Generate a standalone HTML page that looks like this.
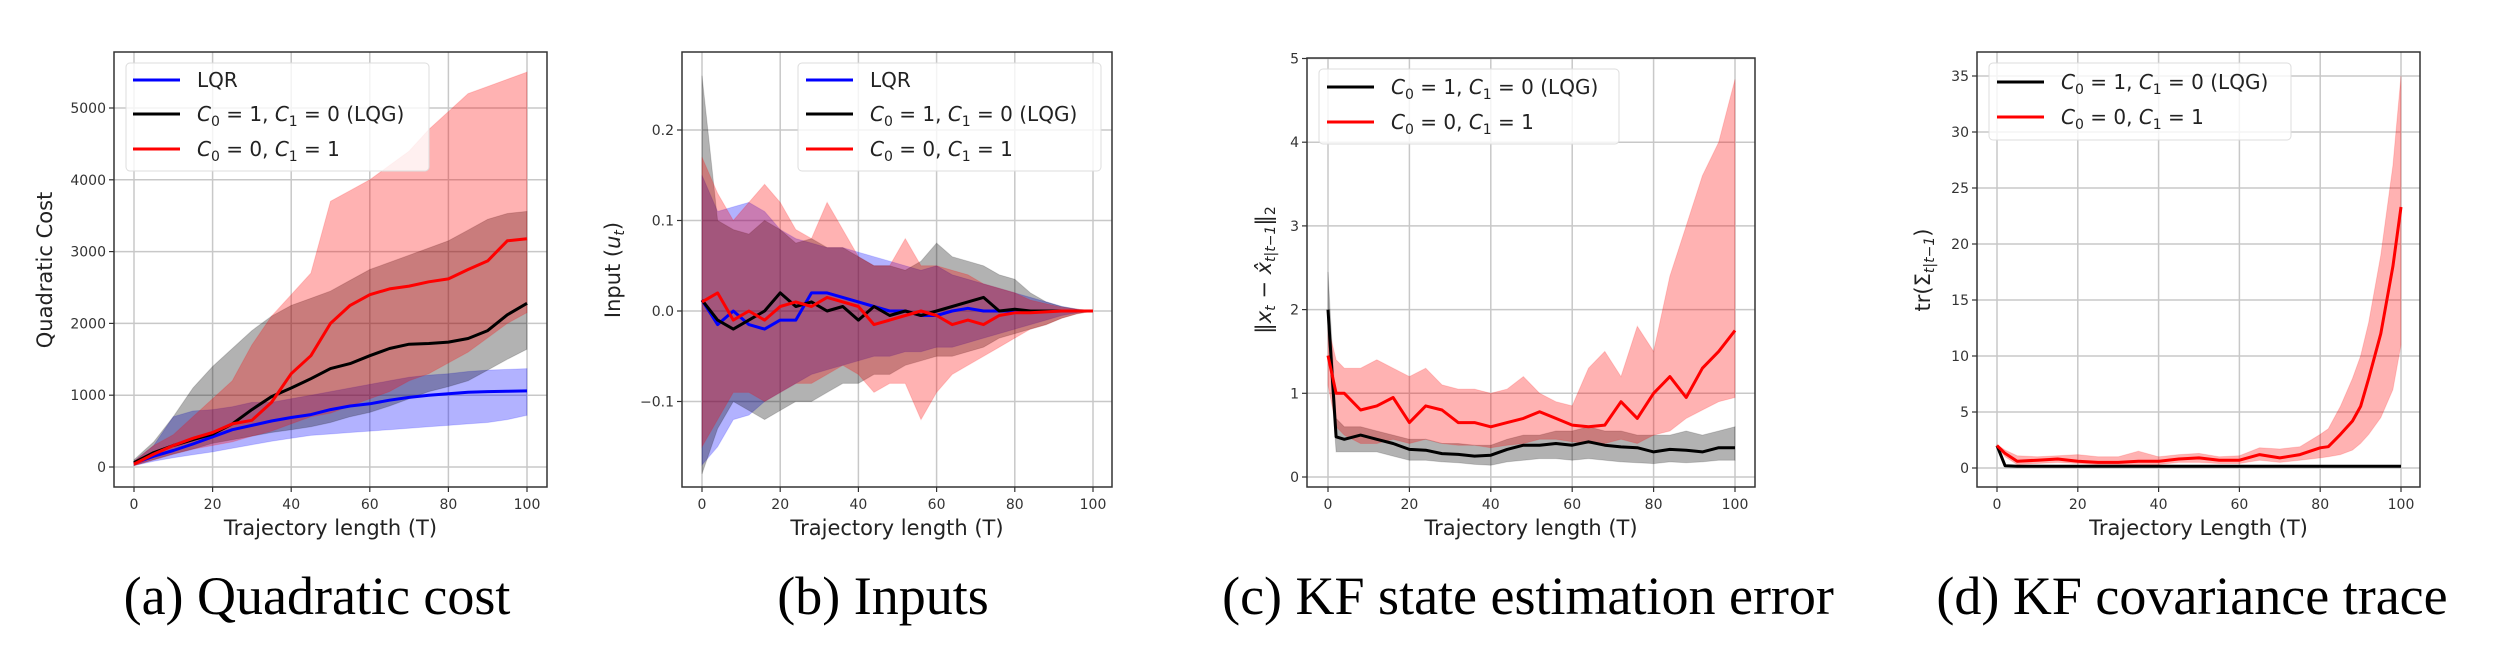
<!DOCTYPE html>
<html><head><meta charset="utf-8"><style>
html,body{margin:0;padding:0;background:#fff;}
svg{display:block;}
text{font-family:"DejaVu Sans","Liberation Sans",sans-serif;}
.cap{font-family:"Liberation Serif",serif;font-size:54px;}
</style></head><body>
<svg id="fig" width="2500" height="671" viewBox="0 0 2500 671">
<text class="cap" x="317" y="614" text-anchor="middle">(a) Quadratic cost</text>
<text class="cap" x="883" y="614" text-anchor="middle">(b) Inputs</text>
<text class="cap" x="1528" y="614" text-anchor="middle">(c) KF state estimation error</text>
<text class="cap" x="2192" y="614" text-anchor="middle">(d) KF covariance trace</text>
</svg>
<script>
// ---------- Panel (a) data ----------
const aT = [0,5,10,15,20,25,30,35,40,45,50,55,60,65,70,75,80,85,90,95,100];
const aLqrMean = [50,150,230,320,420,520,580,640,690,730,800,850,880,930,970,1000,1020,1040,1050,1055,1060];
const aLqrLow = [20,80,130,170,210,260,310,360,400,440,460,480,500,520,540,560,580,600,620,660,720];
const aLqrHigh = [80,300,700,780,800,840,900,900,950,1000,1050,1100,1150,1200,1250,1280,1300,1330,1350,1360,1370];
const aLqgMean = [60,200,300,380,460,600,800,980,1100,1230,1370,1440,1550,1650,1710,1720,1740,1790,1900,2120,2280];
const aLqgLow = [20,100,180,250,330,380,430,480,520,560,620,700,760,850,950,1050,1120,1200,1350,1500,1640];
const aLqgHigh = [100,350,700,1100,1400,1650,1900,2100,2250,2350,2450,2600,2750,2850,2950,3050,3150,3300,3450,3530,3560];
const aRedMean = [40,180,300,400,480,600,650,900,1300,1550,2000,2250,2400,2480,2520,2580,2620,2750,2870,3150,3180];
const aRedLow = [20,100,180,250,300,350,430,500,600,700,750,850,950,1050,1200,1300,1450,1600,1800,2000,2150];
const aRedHigh = [80,300,450,700,950,1200,1700,2100,2400,2700,3700,3850,4000,4200,4400,4700,4950,5200,5300,5400,5500];
const aYTicks = [0,1000,2000,3000,4000,5000];
const aYTickLabels = ["0","1000","2000","3000","4000","5000"];

// ---------- Panel (b) data ----------
const bT = [0,4,8,12,16,20,24,28,32,36,40,44,48,52,56,60,64,68,72,76,80,84,88,92,96,100];
const bLqrMean = [.012,-.015,0,-.015,-.02,-.01,-.01,.02,.02,.015,.01,.005,0,0,-.005,-.005,0,.003,0,0,0,0,0,0,0,0];
const bLqrHigh = [.15,.11,.115,.12,.11,.09,.08,.075,.07,.07,.065,.06,.055,.05,.045,.05,.04,.035,.03,.025,.02,.015,.01,.005,.002,0];
const bLqrLow = [-.17,-.15,-.12,-.115,-.1,-.09,-.08,-.07,-.065,-.06,-.055,-.05,-.05,-.045,-.045,-.04,-.04,-.035,-.03,-.025,-.02,-.015,-.01,-.005,-.002,0];
const bLqgMean = [.012,-.01,-.02,-.01,0,.02,.005,.01,0,.005,-.01,.005,-.005,0,-.005,0,.005,.01,.015,0,.002,0,0,0,0,0];
const bLqgHigh = [.26,.1,.09,.085,.1,.09,.075,.08,.07,.07,.06,.05,.05,.045,.055,.075,.06,.055,.05,.04,.035,.02,.01,.005,.002,0];
const bLqgLow = [-.18,-.13,-.1,-.11,-.12,-.11,-.1,-.1,-.09,-.08,-.08,-.07,-.07,-.06,-.055,-.05,-.05,-.045,-.04,-.03,-.025,-.02,-.015,-.008,-.003,0];
const bRedMean = [.01,.02,-.01,0,-.01,.005,.01,.005,.015,.01,.005,-.015,-.01,-.005,0,-.005,-.015,-.01,-.015,-.005,-.002,-.002,-.001,0,0,0];
const bRedHigh = [.17,.13,.1,.12,.14,.12,.09,.08,.12,.09,.06,.05,.05,.08,.05,.05,.045,.04,.03,.025,.02,.012,.008,.004,.002,0];
const bRedLow = [-.15,-.12,-.09,-.09,-.1,-.09,-.08,-.08,-.07,-.06,-.07,-.09,-.08,-.08,-.12,-.09,-.07,-.06,-.05,-.04,-.03,-.02,-.015,-.008,-.003,0];
const bYTicks = [-0.1,0,0.1,0.2];
const bYTickLabels = ["\u22120.1","0.0","0.1","0.2"];

// ---------- Panel (c) data ----------
const cT = [0,2,4,8,12,16,20,24,28,32,36,40,44,48,52,56,60,64,68,72,76,80,84,88,92,96,100];
const cLqgMean = [2.0,.48,.45,.5,.45,.4,.33,.32,.28,.27,.25,.26,.33,.38,.38,.4,.38,.42,.38,.36,.35,.3,.33,.32,.3,.35,.35];
const cLqgHigh = [2.45,.7,.6,.6,.55,.5,.45,.45,.4,.4,.38,.38,.45,.5,.5,.55,.55,.6,.55,.55,.5,.5,.5,.55,.5,.55,.6];
const cLqgLow = [1.7,.3,.3,.3,.3,.25,.2,.2,.18,.17,.15,.14,.18,.2,.22,.22,.2,.22,.2,.18,.17,.16,.18,.17,.18,.2,.2];
const cRedMean = [1.45,1.0,1.0,.8,.85,.95,.65,.85,.8,.65,.65,.6,.65,.7,.78,.7,.62,.6,.62,.9,.7,1.0,1.2,.95,1.3,1.5,1.75];
const cRedHigh = [1.8,1.4,1.3,1.3,1.4,1.3,1.2,1.3,1.1,1.05,1.05,1.0,1.05,1.2,1.0,.9,.85,1.3,1.5,1.2,1.8,1.5,2.4,3.0,3.6,4.0,4.75];
const cRedLow = [1.1,.6,.5,.4,.4,.45,.4,.45,.4,.38,.38,.35,.38,.4,.45,.45,.42,.4,.4,.45,.4,.5,.55,.7,.8,.9,.95];
const cYTicks = [0,1,2,3,4,5];
const cYTickLabels = ["0","1","2","3","4","5"];

// ---------- Panel (d) data ----------
const dT = [0,2,5,10,15,20,25,30,35,40,45,50,55,60,65,70,75,80,82,85,88,90,92,95,98,100];
const dLqgMean = [2.0,.2,.15,.15,.15,.15,.15,.15,.15,.15,.15,.15,.15,.15,.15,.15,.15,.15,.15,.15,.15,.15,.15,.15,.15,.15];
const dRedMean = [2.0,1.3,.6,.7,.8,.6,.5,.5,.6,.6,.8,.9,.7,.7,1.2,.9,1.2,1.8,1.9,3.0,4.2,5.5,8,12,18,23.3];
const dRedHigh = [2.1,1.6,1.1,1.0,1.1,1.2,1.0,1.0,1.5,1.0,1.2,1.3,1.0,1.1,1.8,1.7,1.9,3.0,3.5,5.5,8,10,13,19,27,35];
const dRedLow = [1.9,1.0,.3,.4,.5,.4,.3,.3,.3,.3,.5,.5,.4,.4,.7,.5,.7,.9,1.0,1.2,1.6,2.2,3,4.5,7,11];
const dYTicks = [0,5,10,15,20,25,30,35];
const dYTickLabels = ["0","5","10","15","20","25","30","35"];

const xTicks = [0,20,40,60,80,100];
const xTickLabels = ["0","20","40","60","80","100"];

const NS = 'http://www.w3.org/2000/svg';
const svg = document.getElementById('fig');
function mk(tag, attrs, parent){
  const e = document.createElementNS(NS, tag);
  for (const k in attrs) e.setAttribute(k, attrs[k]);
  (parent || svg).appendChild(e);
  return e;
}

function panel(p){
  const g = mk('g', {});
  
  
  const xs = v => p.x0 + (v - 0) / 100 * (p.x100 - p.x0);
  const ys = v => p.yp0 + (v - p.yv0) / (p.yv1 - p.yv0) * (p.yp1 - p.yp0);
  xTicks.forEach((t, i) => {
    const l = mk('line', {x1: xs(t), x2: xs(t), y1: p.top, y2: p.bottom, stroke: '#c8c8c8', 'stroke-width': 1.5}, g);
    
    
    mk('line', {x1: xs(t), x2: xs(t), y1: p.bottom, y2: p.bottom + 5, stroke: '#333', 'stroke-width': 1.2}, g);
    const tx = mk('text', {x: xs(t), y: p.bottom + 22, 'font-size': 14, fill: '#333', 'text-anchor': 'middle'}, g);
    tx.textContent = xTickLabels[i];
    
    
  });
  p.yTicks.forEach((t, i) => {
    const l = mk('line', {x1: p.left, x2: p.right, y1: ys(t), y2: ys(t), stroke: '#c8c8c8', 'stroke-width': 1.5}, g);
    
    
    mk('line', {x1: p.left - 5, x2: p.left, y1: ys(t), y2: ys(t), stroke: '#333', 'stroke-width': 1.2}, g);
    const tx = mk('text', {x: p.left - 8, y: ys(t) + 5, 'font-size': 14, fill: '#333', 'text-anchor': 'end'}, g);
    tx.textContent = p.yLabels[i];
    
    
  });
  p.series.forEach(s => {
    if (s.low) {
      let d = 'M' + s.t.map((t, i) => xs(t).toFixed(1) + ',' + ys(s.high[i]).toFixed(1)).join('L');
      for (let i = s.t.length - 1; i >= 0; i--) d += 'L' + xs(s.t[i]).toFixed(1) + ',' + ys(s.low[i]).toFixed(1);
      const f = mk('path', {d: d + 'Z', fill: s.color, 'fill-opacity': 0.3, stroke: s.color, 'stroke-opacity': 0.15}, g);
      
      
    }
  });
  p.series.forEach(s => {
    const d = 'M' + s.t.map((t, i) => xs(t).toFixed(1) + ',' + ys(s.mean[i]).toFixed(1)).join('L');
    const l = mk('path', {d: d, fill: 'none', stroke: s.color, 'stroke-width': 3, 'stroke-linejoin': 'round'}, g);
    
    
  });
  const fr = mk('rect', {x: p.left, y: p.top, width: p.right - p.left, height: p.bottom - p.top, fill: 'none', stroke: '#333', 'stroke-width': 1.5}, g);
  
  
  const xl = mk('text', {x: (p.left + p.right) / 2, y: 535, 'font-size': 21, fill: '#222', 'text-anchor': 'middle'}, g);
  xl.textContent = p.xlabel;
  
  
  const yl = mk('text', {x: 0, y: 0, 'font-size': 21, fill: '#222', 'text-anchor': 'middle', transform: 'translate(' + p.ylx + ',270) rotate(-90)'}, g);
  yl.innerHTML = p.ylabel;
  
  
  const lg = mk('g', {}, g);
  
  
  mk('rect', {x: p.leg[0], y: p.leg[1], width: p.leg[2], height: p.leg[3], rx: 4, fill: '#fff', 'fill-opacity': 0.8, stroke: '#ddd', 'stroke-width': 1}, lg);
  p.legItems.forEach((it, i) => {
    const y = p.legY[i];
    const ln = mk('line', {x1: p.legX, x2: p.legX + 47, y1: y, y2: y, stroke: it.color, 'stroke-width': 3}, lg);
    
    
    const tx = mk('text', {x: p.legX + 64, y: y + 7, 'font-size': 20, fill: '#222'}, lg);
    tx.innerHTML = it.label;
    
    
  });
}

const L_LQR = 'LQR';
const L_LQG = '<tspan font-style="italic">C</tspan><tspan font-size="14" dy="5">0</tspan><tspan dy="-5"> = 1, </tspan><tspan font-style="italic">C</tspan><tspan font-size="14" dy="5">1</tspan><tspan dy="-5"> = 0 (LQG)</tspan>';
const L_RED = '<tspan font-style="italic">C</tspan><tspan font-size="14" dy="5">0</tspan><tspan dy="-5"> = 0, </tspan><tspan font-style="italic">C</tspan><tspan font-size="14" dy="5">1</tspan><tspan dy="-5"> = 1</tspan>';

panel({id: 'a', left: 114, right: 547, top: 52, bottom: 487, x0: 134, x100: 527, yv0: 0, yp0: 467, yv1: 5000, yp1: 108,
  yTicks: aYTicks, yLabels: aYTickLabels, xlabel: 'Trajectory length (T)', ylabel: 'Quadratic Cost', ylx: 52,
  series: [
    {name: 'lqr', color: 'blue', t: aT, mean: aLqrMean, low: aLqrLow, high: aLqrHigh},
    {name: 'lqg', color: 'black', t: aT, mean: aLqgMean, low: aLqgLow, high: aLqgHigh},
    {name: 'c0-0-c1-1', color: 'red', t: aT, mean: aRedMean, low: aRedLow, high: aRedHigh}],
  leg: [126, 63, 303, 108], legX: 133, legY: [80, 114, 149],
  legItems: [{color: 'blue', label: L_LQR}, {color: 'black', label: L_LQG}, {color: 'red', label: L_RED}]});

panel({id: 'b', left: 682, right: 1112, top: 52, bottom: 487, x0: 702, x100: 1093, yv0: 0, yp0: 311, yv1: 0.1, yp1: 220.5,
  yTicks: bYTicks, yLabels: bYTickLabels, xlabel: 'Trajectory length (T)', ylabel: 'Input (<tspan font-style="italic">u</tspan><tspan font-size="14" dy="4" font-style="italic">t</tspan><tspan dy="-4">)</tspan>', ylx: 620,
  series: [
    {name: 'lqr', color: 'blue', t: bT, mean: bLqrMean, low: bLqrLow, high: bLqrHigh},
    {name: 'lqg', color: 'black', t: bT, mean: bLqgMean, low: bLqgLow, high: bLqgHigh},
    {name: 'c0-0-c1-1', color: 'red', t: bT, mean: bRedMean, low: bRedLow, high: bRedHigh}],
  leg: [798, 63, 303, 108], legX: 806, legY: [80, 114, 149],
  legItems: [{color: 'blue', label: L_LQR}, {color: 'black', label: L_LQG}, {color: 'red', label: L_RED}]});

panel({id: 'c', left: 1307, right: 1755, top: 58, bottom: 487, x0: 1328, x100: 1735, yv0: 0, yp0: 477, yv1: 5, yp1: 58.5,
  yTicks: cYTicks, yLabels: cYTickLabels, xlabel: 'Trajectory length (T)',
  ylabel: '\u2016<tspan font-style="italic">x</tspan><tspan font-size="14" dy="4" font-style="italic">t</tspan><tspan dy="-4"> \u2212 </tspan><tspan font-style="italic">x\u0302</tspan><tspan font-size="14" dy="4" font-style="italic">t|t\u22121</tspan><tspan dy="-4">\u2016</tspan><tspan font-size="14" dy="4">2</tspan>', ylx: 1271,
  series: [
    {name: 'lqg', color: 'black', t: cT, mean: cLqgMean, low: cLqgLow, high: cLqgHigh},
    {name: 'c0-0-c1-1', color: 'red', t: cT, mean: cRedMean, low: cRedLow, high: cRedHigh}],
  leg: [1319, 69, 300, 75], legX: 1327, legY: [87, 122],
  legItems: [{color: 'black', label: L_LQG}, {color: 'red', label: L_RED}]});

panel({id: 'd', left: 1977, right: 2420, top: 52, bottom: 487, x0: 1997, x100: 2401, yv0: 0, yp0: 468, yv1: 35, yp1: 76,
  yTicks: dYTicks, yLabels: dYTickLabels, xlabel: 'Trajectory Length (T)',
  ylabel: 'tr(\u03A3<tspan font-size="14" dy="4" font-style="italic">t|t\u22121</tspan><tspan dy="-4">)</tspan>', ylx: 1930,
  series: [
    {name: 'lqg', color: 'black', t: dT, mean: dLqgMean},
    {name: 'c0-0-c1-1', color: 'red', t: dT, mean: dRedMean, low: dRedLow, high: dRedHigh}],
  leg: [1989, 63, 302, 77], legX: 1997, legY: [82, 117],
  legItems: [{color: 'black', label: L_LQG}, {color: 'red', label: L_RED}]});
</script>
</body></html>
